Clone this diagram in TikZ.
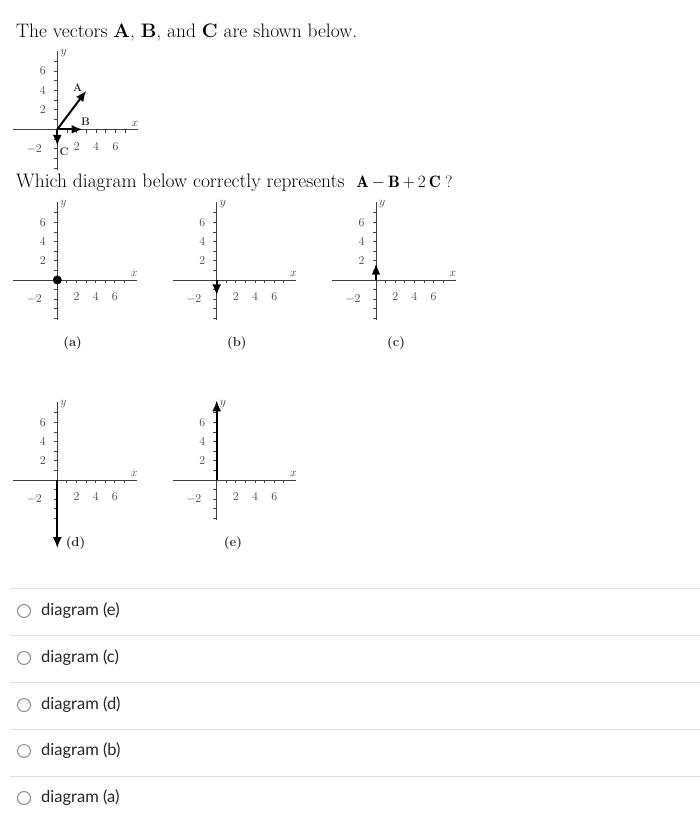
\documentclass[tikz,border=0pt]{standalone}
\usepackage{fontspec}
\newfontfamily\latofont{Lato}
\usetikzlibrary{positioning, arrows.meta}

\begin{document}
\begin{tikzpicture}[x=1pt, y=1pt,
    axisline/.style={draw=black!75, line width=1pt},
    ticklabel/.style={font=\fontsize{12}{13}\selectfont, text=black!75, inner sep=0pt},
    vec/.style={line width=2pt, -{Latex[length=11pt, width=9pt]}},
    vecname/.style={font=\fontsize{11}{12}\selectfont\bfseries, text=black!85, inner sep=0pt},
    caption/.style={font=\fontsize{13}{15}\selectfont\bfseries, text=black!85, inner sep=0pt},
    question/.style={font=\fontsize{19.5}{22}\selectfont, anchor=west, inner sep=0pt},
    radio/.style={circle, draw=black!45, line width=1pt, minimum size=13pt, inner sep=0pt},
    choice/.style={font=\latofont\fontsize{16.5}{19}\selectfont, text=black!85, inner sep=0pt},
    sepline/.style={draw=black!13, line width=0.8pt},
    axes/.pic={
      \draw[axisline] (-4.6,0) -- (8.3,0);
      \draw[axisline] (0,-4.2) -- (0,8.1);
      \foreach \k in {1,...,7} \draw[axisline] (\k,0) -- (\k,-0.35);
      \foreach \k in {-4,...,7} \draw[axisline] (0,\k) -- (-0.35,\k);
      \foreach \k in {2,4,6} {
        \node[ticklabel] at (\k,-1.75) {\k};
        \node[ticklabel] at (-1.5,\k) {\k};
      }
      \node[ticklabel] at (-2.4,-2) {$-2$};
      \node[ticklabel] at (8,0.6) {$x$};
      \node[ticklabel] at (0.65,7.9) {$y$};
    }]
  \fill[white] (0,0) rectangle (700,-823);
  \useasboundingbox (0,0) rectangle (700,-823);

  \node[question] (intro) at (16,-33) {The vectors \textbf{A}, \textbf{B}, and \textbf{C} are shown below.};
  \node[question] (ask) at (16,-183) {Which diagram below correctly represents \ {\fontsize{16.5}{20}\selectfont$\mathbf{A}\mkern-1mu-\mkern-1mu\mathbf{B}\mkern-1mu+\mkern-1mu2\,\mathbf{C}$\;?}};

  % given vectors
  \begin{scope}[shift={(57.3,-129.3)}, x=9.7pt, y=9.7pt]
    \pic {axes};
    \coordinate (o_top) at (0,0);
    \coordinate (A_tip) at (3,4);
    \coordinate (B_tip) at (2.6,0);
    \coordinate (C_tip) at (0,-1.7);
    \draw[vec] (o_top) -- (A_tip);
    \draw[vec] (o_top) -- (B_tip);
    \draw[vec] (o_top) -- (C_tip);
    \node[vecname] (A_lbl) at (2.1,4.3) {A};
    \node[vecname] (B_lbl) at (2.9,0.8) {B};
    \node[vecname] (C_lbl) at (0.7,-2.3) {C};
  \end{scope}

  % answers
  \begin{scope}[shift={(57.3,-280)}, x=9.6pt, y=9.6pt]
    \pic {axes};
    \coordinate (o_a) at (0,0);
    \fill (o_a) circle (4.5pt);
    \node[caption] (cap_a) at (1.6,-6.6) {(a)};
  \end{scope}
  \begin{scope}[shift={(216.7,-280)}, x=9.6pt, y=9.6pt]
    \pic {axes};
    \coordinate (o_b) at (0,0);
    \coordinate (b_tip) at (0,-1.6);
    \draw[vec] (o_b) -- (b_tip);
    \node[caption] (cap_b) at (2.1,-6.6) {(b)};
  \end{scope}
  \begin{scope}[shift={(376,-280)}, x=9.6pt, y=9.6pt]
    \pic {axes};
    \coordinate (o_c) at (0,0);
    \coordinate (c_tip) at (0,1.7);
    \draw[vec] (o_c) -- (c_tip);
    \node[caption] (cap_c) at (2.1,-6.6) {(c)};
  \end{scope}
  \begin{scope}[shift={(57.3,-480)}, x=9.6pt, y=9.6pt]
    \pic {axes};
    \coordinate (o_d) at (0,0);
    \coordinate (d_tip) at (0,-7.1);
    \draw[vec] (o_d) -- (d_tip);
    \node[caption] (cap_d) at (1.9,-6.6) {(d)};
  \end{scope}
  \begin{scope}[shift={(216.7,-480)}, x=9.6pt, y=9.6pt]
    \pic {axes};
    \coordinate (o_e) at (0,0);
    \coordinate (e_tip) at (0,8.3);
    \draw[vec] (o_e) -- (e_tip);
    \node[caption] (cap_e) at (1.7,-6.6) {(e)};
  \end{scope}

  % choices
  \draw[sepline] (10,-588) -- (700,-588);
  \draw[sepline] (10,-635) -- (700,-635);
  \draw[sepline] (10,-682) -- (700,-682);
  \draw[sepline] (10,-729) -- (700,-729);
  \draw[sepline] (10,-776) -- (700,-776);
  \node[radio] (radio_e) at (24,-611) {};
  \node[radio] (radio_c) at (24,-658) {};
  \node[radio] (radio_d) at (24,-705) {};
  \node[radio] (radio_b) at (24,-751) {};
  \node[radio] (radio_a) at (24,-798) {};
  \node[choice] (opt_e) [right=10pt of radio_e] {diagram (e)};
  \node[choice] (opt_c) [right=10pt of radio_c] {diagram (c)};
  \node[choice] (opt_d) [right=10pt of radio_d] {diagram (d)};
  \node[choice] (opt_b) [right=10pt of radio_b] {diagram (b)};
  \node[choice] (opt_a) [right=10pt of radio_a] {diagram (a)};
\end{tikzpicture}
\end{document}
